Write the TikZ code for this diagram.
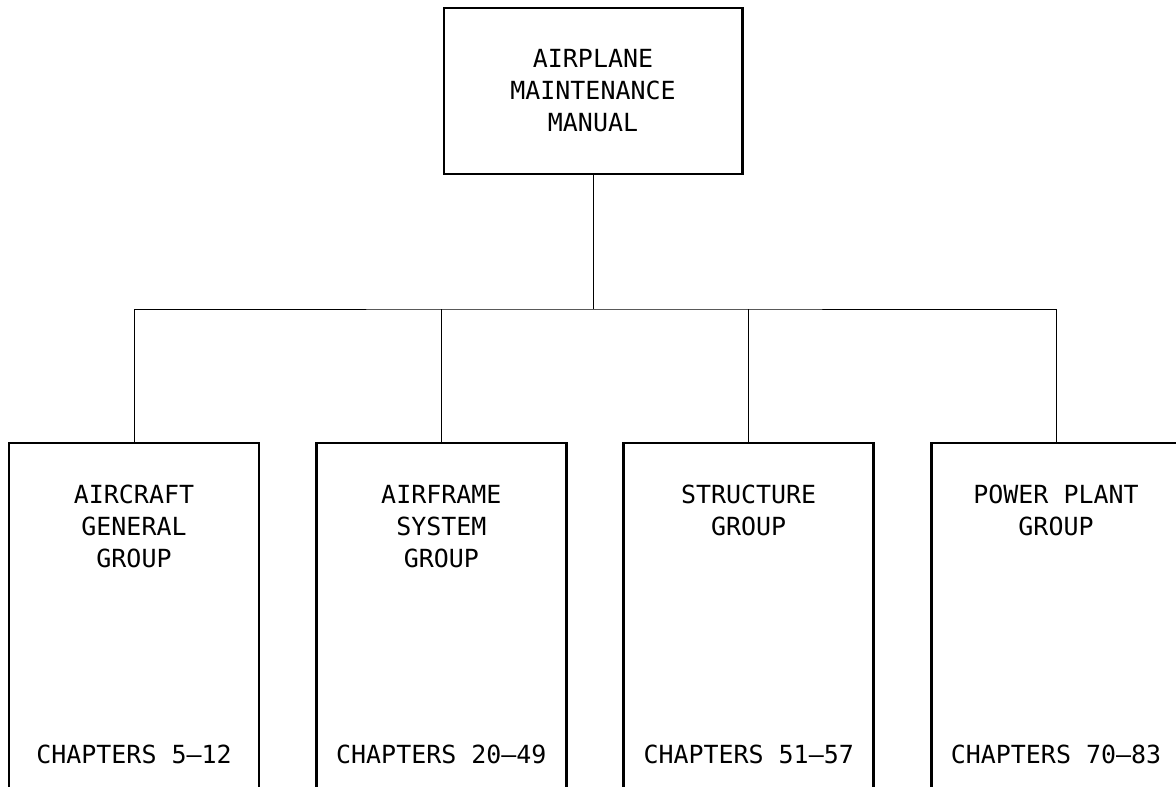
\documentclass[tikz,border=0pt]{standalone}
\usepackage{fontspec}
\setmonofont{DejaVu Sans Mono}
\usetikzlibrary{positioning, calc}

\begin{document}
\begin{tikzpicture}[
  topbox/.style={draw, line width=1.7pt, minimum width=5.96cm, minimum height=3.32cm, inner sep=0pt, outer sep=0pt},
  groupbox/.style={draw, line width=1.7pt, minimum width=5cm, minimum height=7.6cm, anchor=north, inner sep=0pt, outer sep=0pt},
  lbl/.style={font=\ttfamily\fontsize{14.2}{18.2}\selectfont, align=center, inner sep=0pt},
  link/.style={line width=0.5pt}
]
\useasboundingbox (0,0) rectangle (23.52,15.72);
\clip (0,0) rectangle (23.52,15.72);

\node[topbox, lbl] (amm) at (11.86,13.9) {AIRPLANE\\MAINTENANCE\\MANUAL};

\node[groupbox] (acg) at (2.68,6.86) {};
\node[groupbox, right=1.1467cm of acg] (afs) {};
\node[groupbox, right=1.1467cm of afs] (stg) {};
\node[groupbox, right=1.1467cm of stg] (ppg) {};

\node[lbl, below=0.84cm of acg.north] (acgt) {AIRCRAFT\\GENERAL\\GROUP};
\node[lbl, below=0.84cm of afs.north] (afst) {AIRFRAME\\SYSTEM\\GROUP};
\node[lbl, below=0.84cm of stg.north] (stgt) {STRUCTURE\\GROUP};
\node[lbl, below=0.84cm of ppg.north] (ppgt) {POWER PLANT\\GROUP};

\node[lbl, anchor=base] (acgc) at ($(acg.north)+(0,-6.4)$) {CHAPTERS 5–12};
\node[lbl, anchor=base] (afsc) at ($(afs.north)+(0,-6.4)$) {CHAPTERS 20–49};
\node[lbl, anchor=base] (stgc) at ($(stg.north)+(0,-6.4)$) {CHAPTERS 51–57};
\node[lbl, anchor=base] (ppgc) at ($(ppg.north)+(0,-6.4)$) {CHAPTERS 70–83};

\coordinate (bus) at ($(amm.south)+(0,-2.7)$);
\draw[link] (amm.south) -- (bus);
\draw[link] (acg.north) |- (bus) -| (ppg.north);
\foreach \g in {afs,stg}
  \draw[link] (\g.north) -- (\g.north |- bus);

\end{tikzpicture}
\end{document}
